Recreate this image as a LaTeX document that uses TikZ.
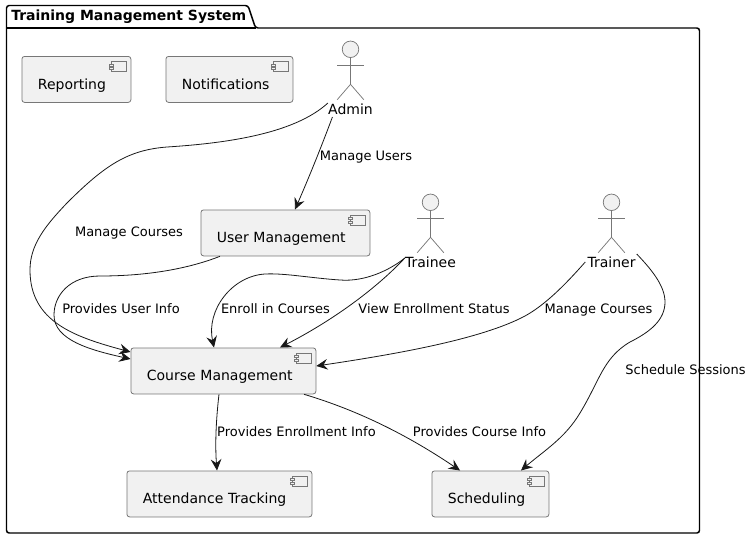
\documentclass[tikz,border=0pt]{standalone}
\usepackage{fontspec}
\setmainfont{DejaVu Sans}
\usepackage{xcolor}
\usetikzlibrary{arrows.meta,positioning}
\definecolor{boxfill}{HTML}{F1F1F1}
\definecolor{boxline}{HTML}{777777}
\definecolor{linkline}{HTML}{181818}

\begin{document}
\begin{tikzpicture}[
  x=.75pt,y=-.75pt,
  font=\fontsize{10.5pt}{12pt}\selectfont,
  pkg/.style={draw=black,line width=1.1pt,rounded corners=2pt},
  comp/.style 2 args={draw=boxline,line width=.6pt,fill=boxfill,rounded corners=2pt,anchor=north west,
    inner xsep=12pt,inner ysep=0pt,align=left,text width={(#1-32)*.75pt},minimum height={#2*.75pt},
    text height=23pt,text depth=8pt},
  icon/.style={draw=boxline,line width=.5pt,fill=boxfill},
  stick/.style={draw=boxline,line width=.55pt},
  actorname/.style={anchor=base,inner sep=0pt},
  link/.style={draw=linkline,line width=.6pt,-{Stealth[length=8.5pt,width=8pt,inset=3pt]}},
  linktext/.style={font=\fontsize{9.75pt}{12pt}\selectfont,inner sep=0pt,text height=8.5pt,text depth=2pt}
]
\useasboundingbox (0,0) rectangle (753,539);

% package outline and its title
\draw[pkg] (6.5,28) -- (6.5,5.5) -- (248,5.5) -- (255.5,28) -- (699.5,28) -- (699.5,533) -- (6.5,533) -- cycle;
\draw[pkg,rounded corners=0pt] (6.5,28) -- (255.5,28);
\node[anchor=base west,inner sep=0pt,font=\fontsize{10.5pt}{12pt}\selectfont\bfseries] (title) at (11,21) {Training Management System};

% components
\node[comp={109}{46}] (reporting) at (21.5,56)    {Reporting};
\node[comp={127}{46}] (notif)     at (165.5,56)   {Notifications};
\node[comp={169}{46}] (usermgmt)  at (200.5,209.5){User Management};
\node[comp={185}{46}] (course)    at (130.5,347.5){Course Management};
\node[comp={185}{46}] (attend)    at (126.5,470.5){Attendance Tracking};
\node[comp={117}{46}] (sched)     at (431.5,470.5){Scheduling};

\foreach \n in {reporting,notif,usermgmt,course,attend,sched} {
  \draw[icon] ([shift={(-20,5.5)}]\n.north east) rectangle ([shift={(-4.5,15.5)}]\n.north east);
  \draw[icon] ([shift={(-22,8)}]\n.north east) rectangle ([shift={(-18,10)}]\n.north east);
  \draw[icon] ([shift={(-22,11.5)}]\n.north east) rectangle ([shift={(-18,13.5)}]\n.north east);
}

% actors
\node[actorname] (admin)   at (350.5,114) {Admin};
\node[actorname] (trainee) at (430.5,267) {Trainee};
\node[actorname] (trainer) at (611.5,267) {Trainer};

\foreach \n in {admin,trainee,trainer} {
  \draw[stick,fill=boxfill] ([shift={(0,-64.7)}]\n.base) circle[radius=6.2pt];
  \draw[stick] ([shift={(0,-56.4)}]\n.base) -- ([shift={(0,-29.7)}]\n.base);
  \draw[stick] ([shift={(-13.3,-48.7)}]\n.base) -- ([shift={(13.3,-48.7)}]\n.base);
  \draw[stick] ([shift={(-13.3,-14.3)}]\n.base) -- ([shift={(0,-29.7)}]\n.base) -- ([shift={(13.3,-14.3)}]\n.base);
}

% links, control points read off the picture
\draw[link] ([shift={(0,-11)}]admin.base west) .. controls (295,133) and (230,143) .. (167,147)
  .. controls (128,150) and (105,165) .. (67,203)
  .. controls (45,226) and (30,245) .. (30,270)
  .. controls (30,322) and (75,337) .. ([shift={(0,4.5)}]course.north west);
\draw[link] ([shift={(4.5,3)}]admin.base west) .. controls (322,145) and (310,175) .. ([shift={(94.5,0)}]usermgmt.north west);
\draw[link] ([shift={(19.5,0)}]usermgmt.south west) .. controls (190,268) and (150,276) .. (100,276)
  .. controls (70,276) and (54,295) .. (54,315)
  .. controls (54,340) and (90,350) .. ([shift={(0,11.5)}]course.north west);
\draw[link] ([shift={(0,-9)}]trainee.base west) .. controls (390,270) and (365,282) .. (340,280)
  .. controls (310,278) and (285,273) .. (265,274)
  .. controls (232,276) and (206,310) .. ([shift={(83.5,0)}]course.north west);
\draw[link] ([shift={(0,-9)}]trainee.base west) .. controls (375,290) and (330,322) .. ([shift={(149.5,0)}]course.north west);
\draw[link] ([shift={(-2,-5)}]trainer.base west) .. controls (565,285) and (545,305) .. (525,316)
  .. controls (480,340) and (390,355) .. ([shift={(0,18.5)}]course.north east);
\draw[link] ([shift={(1,-13)}]trainer.base east) .. controls (650,268) and (665,285) .. (665,302)
  .. controls (665,320) and (650,332) .. (630,342)
  .. controls (603,358) and (600,380) .. (580,413)
  .. controls (565,438) and (545,450) .. ([shift={(89.5,0)}]sched.north west);
\draw[link] ([shift={(88.5,0)}]course.south west) .. controls (216,420) and (215,445) .. ([shift={(90.5,0)}]attend.north west);
\draw[link] ([shift={(173.5,0)}]course.south west) .. controls (350,408) and (400,430) .. ([shift={(28.5,0)}]sched.north west);

% link labels
\node[linktext] (lblusers)   at (366,156)   {Manage Users};
\node[linktext] (lbladmin)   at (129,232.5) {Manage Courses};
\node[linktext] (lblinfo)    at (121,309.5) {Provides User Info};
\node[linktext] (lblenroll)  at (275.5,309.5) {Enroll in Courses};
\node[linktext] (lblstatus)  at (434,309.5) {View Enrollment Status};
\node[linktext] (lbltrainer) at (598.5,309.5) {Manage Courses};
\node[linktext] (lblsess)    at (685.5,370.5) {Schedule Sessions};
\node[linktext] (lblenrinfo) at (296.5,432.5) {Provides Enrollment Info};
\node[linktext] (lblcourse)  at (479.5,432.5) {Provides Course Info};
\end{tikzpicture}
\end{document}
